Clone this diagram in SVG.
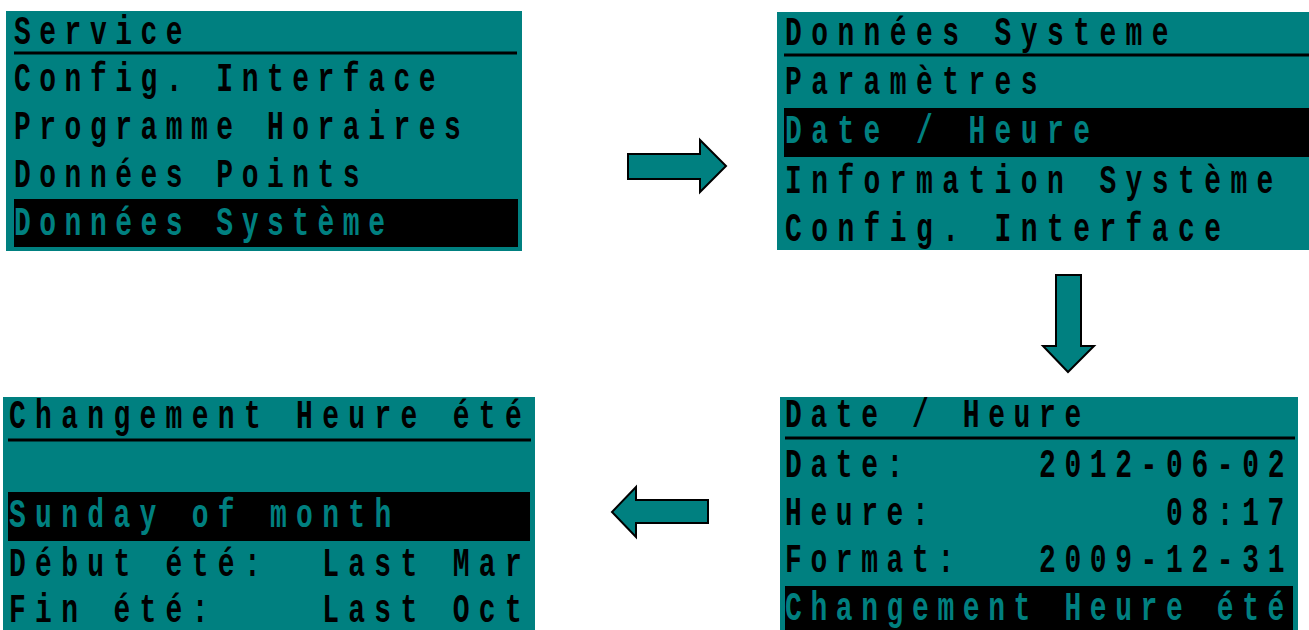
<svg xmlns="http://www.w3.org/2000/svg" width="1309" height="630" viewBox="0 0 1309 630">
<style>
.panel{fill:#008080}
.bar{fill:#000}
.rule{stroke:#000;stroke-width:3}
.t{font-family:"Liberation Mono","DejaVu Sans Mono",monospace;font-size:40px;font-weight:bold;fill:#000}
.h{fill:#008080}
.arrow{fill:#008080;stroke:#000;stroke-width:2;stroke-linejoin:miter}
</style>
<rect width="1309" height="630" fill="#fff"/>
<g id="panel-service">
<rect class="panel" x="6" y="11" width="516" height="240"/>
<line class="rule" x1="14" y1="53" x2="517" y2="53"/>
<rect class="bar" x="14" y="199" width="504" height="48"/>
<g transform="translate(14,0) scale(0.7,1)" style="letter-spacing:12.14px">
<text class="t" x="0" y="44">Service</text>
<text class="t" x="0" y="91">Config. Interface</text>
<text class="t" x="0" y="139">Programme Horaires</text>
<text class="t" x="0" y="187">Données Points</text>
<text class="t h" x="0" y="235">Données Système</text>
</g>
</g>
<g id="panel-donnees-systeme">
<rect class="panel" x="777" y="12" width="532" height="238"/>
<line class="rule" x1="784" y1="55" x2="1309" y2="55"/>
<rect class="bar" x="784" y="108" width="525" height="49"/>
<g transform="translate(785,0) scale(0.7,1)" style="letter-spacing:13.43px">
<text class="t" x="0" y="45">Données Systeme</text>
<text class="t" x="0" y="94">Paramètres</text>
<text class="t h" x="0" y="143">Date / Heure</text>
<text class="t" x="0" y="193">Information Système</text>
<text class="t" x="0" y="241">Config. Interface</text>
</g>
</g>
<g id="panel-date-heure">
<rect class="panel" x="780" y="397" width="518" height="233"/>
<line class="rule" x1="785" y1="438" x2="1295" y2="438"/>
<rect class="bar" x="785" y="586" width="508" height="44"/>
<g transform="translate(785,0) scale(0.7,1)" style="letter-spacing:12.29px">
<text class="t" x="0" y="427">Date / Heure</text>
<text class="t" x="0" y="477">Date:</text>
<text class="t" x="362.9" y="477">2012-06-02</text>
<text class="t" x="0" y="525">Heure:</text>
<text class="t" x="544.3" y="525">08:17</text>
<text class="t" x="0" y="572">Format:</text>
<text class="t" x="362.9" y="572">2009-12-31</text>
<text class="t h" x="0" y="620">Changement Heure été</text>
</g>
</g>
<g id="panel-changement-heure-ete">
<rect class="panel" x="3" y="397" width="532" height="233"/>
<line class="rule" x1="8" y1="440" x2="531" y2="440"/>
<rect class="bar" x="8" y="492" width="522" height="49"/>
<g transform="translate(9,0) scale(0.7,1)" style="letter-spacing:13.29px">
<text class="t" x="0" y="428">Changement Heure été</text>
<text class="t h" x="0" y="527">Sunday of month</text>
<text class="t" x="0" y="576">Début été:</text>
<text class="t" x="447.4" y="576">Last Mar</text>
<text class="t" x="0" y="622">Fin été:</text>
<text class="t" x="447.4" y="622">Last Oct</text>
</g>
</g>
<g id="connectors">
<polygon class="arrow" points="628,154 700,154 700,140 726,166 700,192 700,179 628,179"/>
<polygon class="arrow" points="1056,275 1081,275 1081,346 1094,346 1068,372 1043,346 1056,346"/>
<polygon class="arrow" points="708,500 636,500 636,487 612,512 636,537 636,523 708,523"/>
</g>
</svg>
